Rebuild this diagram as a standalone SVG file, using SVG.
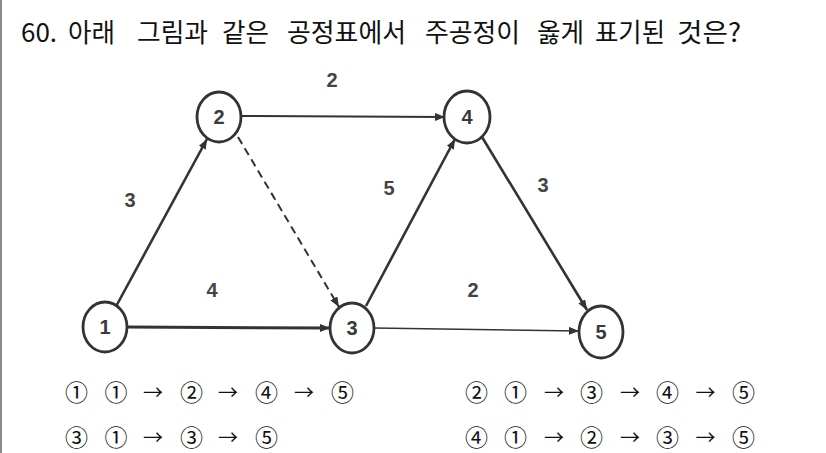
<svg xmlns="http://www.w3.org/2000/svg" width="826" height="453" viewBox="0 0 826 453">
<defs>
<marker id="ah" viewBox="0 0 10 8" refX="10" refY="4" markerWidth="10" markerHeight="8" markerUnits="userSpaceOnUse" orient="auto">
<path d="M0,0 L10,4 L0,8 Z" fill="#333"/>
</marker>
</defs>
<style>
.title{font-family:"Noto Sans CJK KR","Noto Sans",sans-serif;font-size:26px;fill:#111}
.opt{font-family:"Noto Sans CJK KR","Noto Sans",sans-serif;font-size:23px;fill:#111;text-anchor:middle}
.arr{font-family:"Noto Sans CJK KR","Noto Sans",sans-serif;font-size:20px;fill:#111;text-anchor:middle}
.node ellipse{fill:#fff;stroke:#333;stroke-width:2.8}
.node text{font-family:"Liberation Sans",Arial,sans-serif;font-size:20px;font-weight:bold;fill:#3a3a3a;text-anchor:middle}
.lbl{font-family:"Liberation Sans",Arial,sans-serif;font-size:20px;font-weight:bold;fill:#444;text-anchor:middle}
.edge{stroke:#333;fill:none;marker-end:url(#ah)}
</style>
<rect x="0" y="0" width="826" height="453" fill="#fff"/>
<line x1="1" y1="0" x2="1" y2="453" stroke="#666" stroke-width="1.5"/>
<g id="title">
<text class="title" x="21" y="42">60.</text>
<text class="title" x="68" y="42" textLength="47" lengthAdjust="spacingAndGlyphs">아래</text>
<text class="title" x="137" y="42" textLength="71" lengthAdjust="spacingAndGlyphs">그림과</text>
<text class="title" x="222" y="42" textLength="47" lengthAdjust="spacingAndGlyphs">같은</text>
<text class="title" x="287" y="42" textLength="119" lengthAdjust="spacingAndGlyphs">공정표에서</text>
<text class="title" x="425" y="42" textLength="95" lengthAdjust="spacingAndGlyphs">주공정이</text>
<text class="title" x="537" y="42" textLength="47" lengthAdjust="spacingAndGlyphs">옳게</text>
<text class="title" x="595" y="42" textLength="70" lengthAdjust="spacingAndGlyphs">표기된</text>
<text class="title" x="677" y="42" textLength="64" lengthAdjust="spacingAndGlyphs">것은?</text>
</g>
<g id="connectors">
<line class="edge" x1="116.5" y1="305.5" x2="207" y2="139" stroke-width="2.6"/>
<line class="edge" x1="127" y1="327" x2="330" y2="328" stroke-width="3"/>
<line class="edge" x1="241" y1="116" x2="445" y2="117" stroke-width="2"/>
<line class="edge" x1="238" y1="137" x2="339" y2="307" stroke-width="2" stroke-dasharray="8,5"/>
<line class="edge" x1="366" y1="306" x2="455" y2="139" stroke-width="2.6"/>
<line class="edge" x1="482" y1="137" x2="587" y2="310" stroke-width="2.6"/>
<line class="edge" x1="374" y1="328" x2="579" y2="331" stroke-width="1.6"/>
</g>
<g id="edge-labels">
<text class="lbl" x="332" y="87">2</text>
<text class="lbl" x="130" y="207">3</text>
<text class="lbl" x="212" y="297">4</text>
<text class="lbl" x="389" y="195">5</text>
<text class="lbl" x="543" y="192">3</text>
<text class="lbl" x="473" y="297">2</text>
</g>
<g id="node1" class="node"><ellipse cx="105" cy="327" rx="22" ry="25"/><text x="105" y="334">1</text></g>
<g id="node2" class="node"><ellipse cx="219" cy="117" rx="22" ry="25"/><text x="219" y="124">2</text></g>
<g id="node3" class="node"><ellipse cx="352" cy="328" rx="22" ry="25"/><text x="352" y="335">3</text></g>
<g id="node4" class="node"><ellipse cx="467" cy="117" rx="23" ry="26"/><text x="467" y="124">4</text></g>
<g id="node5" class="node"><ellipse cx="601" cy="332" rx="22" ry="26"/><text x="601" y="339">5</text></g>
<g id="options">
<text class="opt" x="76.5" y="400.7">①</text><text class="opt" x="116" y="400.7">①</text><text class="arr" x="153" y="399.5">→</text><text class="opt" x="191.5" y="400.7">②</text><text class="arr" x="228" y="399.5">→</text><text class="opt" x="266.5" y="400.7">④</text><text class="arr" x="304" y="399.5">→</text><text class="opt" x="342.5" y="400.7">⑤</text>
<text class="opt" x="476.5" y="400.7">②</text><text class="opt" x="515.5" y="400.7">①</text><text class="arr" x="554" y="399.5">→</text><text class="opt" x="591.5" y="400.7">③</text><text class="arr" x="630" y="399.5">→</text><text class="opt" x="667.5" y="400.7">④</text><text class="arr" x="705.5" y="399.5">→</text><text class="opt" x="743.5" y="400.7">⑤</text>
<text class="opt" x="76.5" y="446">③</text><text class="opt" x="116" y="446">①</text><text class="arr" x="153" y="444.5">→</text><text class="opt" x="191.5" y="446">③</text><text class="arr" x="228" y="444.5">→</text><text class="opt" x="266.5" y="446">⑤</text>
<text class="opt" x="476.5" y="446">④</text><text class="opt" x="515.5" y="446">①</text><text class="arr" x="554" y="444.5">→</text><text class="opt" x="591.5" y="446">②</text><text class="arr" x="630" y="444.5">→</text><text class="opt" x="667.5" y="446">③</text><text class="arr" x="705.5" y="444.5">→</text><text class="opt" x="743.5" y="446">⑤</text>
</g>
</svg>
